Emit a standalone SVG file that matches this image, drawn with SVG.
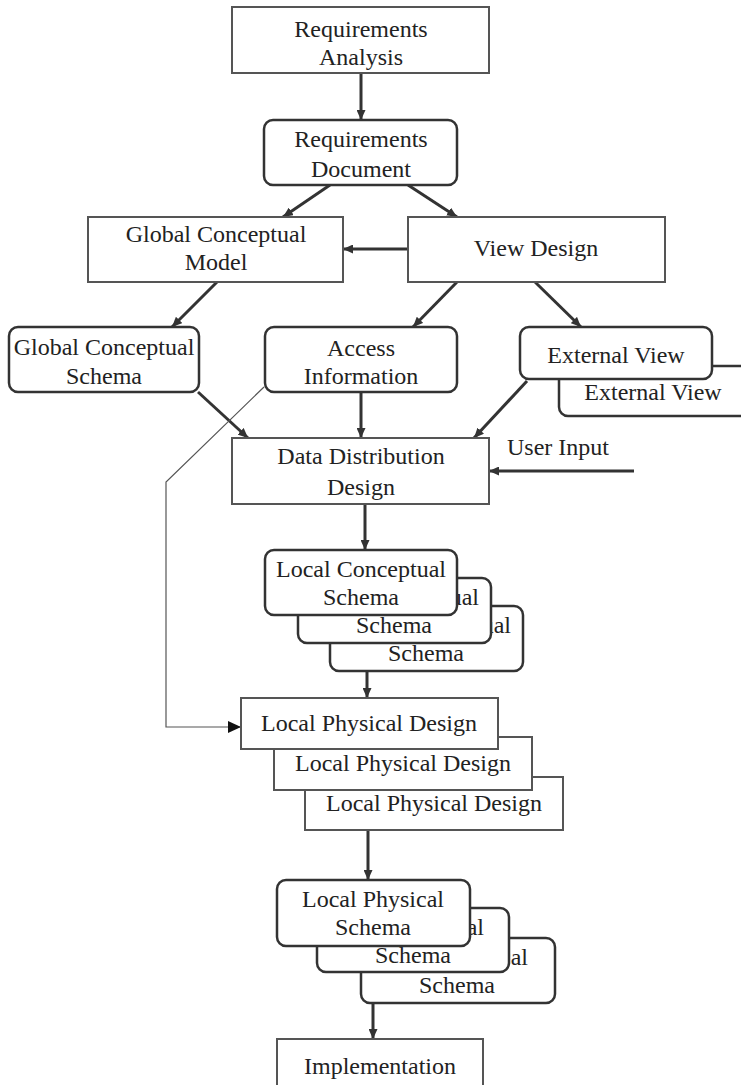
<svg xmlns="http://www.w3.org/2000/svg" width="741" height="1085" viewBox="0 0 741 1085">
  <style>
    .box { fill: #fff; stroke: #555; stroke-width: 2; }
    .rbox { fill: #fff; stroke: #333; stroke-width: 2.5; }
    .lbl { font-family: "Liberation Serif", "Times New Roman", serif; font-size: 24px; fill: #222; text-anchor: middle; }
    .left { text-anchor: start; }
    .conn { fill: none; stroke: #333; stroke-width: 3; marker-end: url(#arrow); }
    .thin { fill: none; stroke: #555; stroke-width: 1.2; marker-end: url(#arrowBig); }
  </style>
  <defs>
    <marker id="arrow" markerUnits="userSpaceOnUse" markerWidth="10" markerHeight="9" refX="10" refY="4.5" orient="auto">
      <path d="M0,0 L10,4.5 L0,9 z" fill="#333"/>
    </marker>
    <marker id="arrowBig" markerUnits="userSpaceOnUse" markerWidth="13" markerHeight="12" refX="13" refY="6" orient="auto">
      <path d="M0,0 L13,6 L0,12 z" fill="#111"/>
    </marker>
    <!-- visible parts of the stacked copies (outside the card in front) -->
    <clipPath id="lcs2Vis"><rect x="458" y="560" width="100" height="100"/><rect x="290" y="616" width="250" height="40"/></clipPath>
    <clipPath id="lcs3Vis"><rect x="492" y="590" width="100" height="100"/><rect x="320" y="644" width="250" height="40"/></clipPath>
    <clipPath id="lps2Vis"><rect x="471" y="890" width="100" height="100"/><rect x="310" y="947" width="250" height="40"/></clipPath>
    <clipPath id="lps3Vis"><rect x="510" y="920" width="100" height="100"/><rect x="350" y="973" width="250" height="40"/></clipPath>
  </defs>
  <rect width="741" height="1085" fill="#fff"/>

  <!-- connectors -->
  <g id="connectors">
    <line class="conn" x1="361" y1="73" x2="361" y2="120"/>
    <line class="conn" x1="330" y1="185" x2="283" y2="217"/>
    <line class="conn" x1="408" y1="185" x2="457" y2="217"/>
    <line class="conn" x1="408" y1="249" x2="343" y2="249"/>
    <line class="conn" x1="217" y1="282" x2="172" y2="327"/>
    <line class="conn" x1="457" y1="282" x2="413" y2="327"/>
    <line class="conn" x1="535" y1="282" x2="581" y2="327"/>
    <line class="conn" x1="198" y1="392" x2="248" y2="438"/>
    <line class="conn" x1="361" y1="392" x2="361" y2="438"/>
    <line class="conn" x1="527" y1="381" x2="474" y2="438"/>
    <line class="conn" x1="634" y1="471" x2="489" y2="471"/>
    <line class="conn" x1="365" y1="504" x2="365" y2="550"/>
    <line class="conn" x1="367" y1="671" x2="367" y2="698"/>
    <line class="conn" x1="368" y1="830" x2="368" y2="880"/>
    <line class="conn" x1="373" y1="1003" x2="373" y2="1039"/>
    <polyline class="thin" points="264,387 166,482 166,727 241,727"/>
  </g>

  <g id="requirements-analysis">
    <rect class="box" x="232" y="7" width="257" height="66"/>
    <text class="lbl" x="361" y="37">Requirements</text>
    <text class="lbl" x="361" y="65">Analysis</text>
  </g>

  <g id="requirements-document">
    <rect class="rbox" x="264" y="120" width="193" height="65" rx="9"/>
    <text class="lbl" x="361" y="147">Requirements</text>
    <text class="lbl" x="361" y="177">Document</text>
  </g>

  <g id="global-conceptual-model">
    <rect class="box" x="88" y="217" width="255" height="65"/>
    <text class="lbl" x="216" y="242">Global Conceptual</text>
    <text class="lbl" x="216" y="270">Model</text>
  </g>

  <g id="view-design">
    <rect class="box" x="408" y="217" width="257" height="65"/>
    <text class="lbl" x="536" y="256">View Design</text>
  </g>

  <g id="global-conceptual-schema">
    <rect class="rbox" x="9" y="327" width="190" height="65" rx="9"/>
    <text class="lbl" x="104" y="355">Global Conceptual</text>
    <text class="lbl" x="104" y="384">Schema</text>
  </g>

  <g id="access-information">
    <rect class="rbox" x="265" y="327" width="192" height="65" rx="9"/>
    <text class="lbl" x="361" y="356">Access</text>
    <text class="lbl" x="361" y="384">Information</text>
  </g>

  <g id="external-view">
    <rect class="rbox" x="559" y="366" width="200" height="50" rx="9"/>
    <text class="lbl" x="653" y="400">External View</text>
    <rect class="rbox" x="520" y="327" width="192" height="52" rx="9"/>
    <text class="lbl" x="616" y="363">External View</text>
  </g>

  <g id="data-distribution-design">
    <rect class="box" x="232" y="438" width="257" height="66"/>
    <text class="lbl" x="361" y="464">Data Distribution</text>
    <text class="lbl" x="361" y="495">Design</text>
  </g>

  <g id="user-input">
    <text class="lbl left" x="507" y="455">User Input</text>
  </g>

  <g id="local-conceptual-schema">
    <rect class="rbox" x="330" y="606" width="193" height="65" rx="9"/>
    <g clip-path="url(#lcs3Vis)">
      <text class="lbl" x="426" y="633">Local Conceptual</text>
      <text class="lbl" x="426" y="661">Schema</text>
    </g>
    <rect class="rbox" x="298" y="578" width="193" height="65" rx="9"/>
    <g clip-path="url(#lcs2Vis)">
      <text class="lbl" x="394" y="605">Local Conceptual</text>
      <text class="lbl" x="394" y="633">Schema</text>
    </g>
    <rect class="rbox" x="265" y="550" width="192" height="65" rx="9"/>
    <text class="lbl" x="361" y="577">Local Conceptual</text>
    <text class="lbl" x="361" y="605">Schema</text>
  </g>

  <g id="local-physical-design">
    <rect class="box" x="305" y="777" width="258" height="53"/>
    <text class="lbl" x="434" y="811">Local Physical Design</text>
    <rect class="box" x="274" y="737" width="258" height="53"/>
    <text class="lbl" x="403" y="771">Local Physical Design</text>
    <rect class="box" x="241" y="698" width="257" height="51"/>
    <text class="lbl" x="369" y="731">Local Physical Design</text>
  </g>

  <g id="local-physical-schema">
    <rect class="rbox" x="361" y="938" width="194" height="65" rx="9"/>
    <g clip-path="url(#lps3Vis)">
      <text class="lbl" x="457" y="965">Local Physical</text>
      <text class="lbl" x="457" y="993">Schema</text>
    </g>
    <rect class="rbox" x="317" y="908" width="192" height="64" rx="9"/>
    <g clip-path="url(#lps2Vis)">
      <text class="lbl" x="413" y="935">Local Physical</text>
      <text class="lbl" x="413" y="963">Schema</text>
    </g>
    <rect class="rbox" x="277" y="880" width="193" height="66" rx="9"/>
    <text class="lbl" x="373" y="907">Local Physical</text>
    <text class="lbl" x="373" y="935">Schema</text>
  </g>

  <g id="implementation">
    <rect class="box" x="277" y="1039" width="206" height="60"/>
    <text class="lbl" x="380" y="1074">Implementation</text>
  </g>
</svg>
